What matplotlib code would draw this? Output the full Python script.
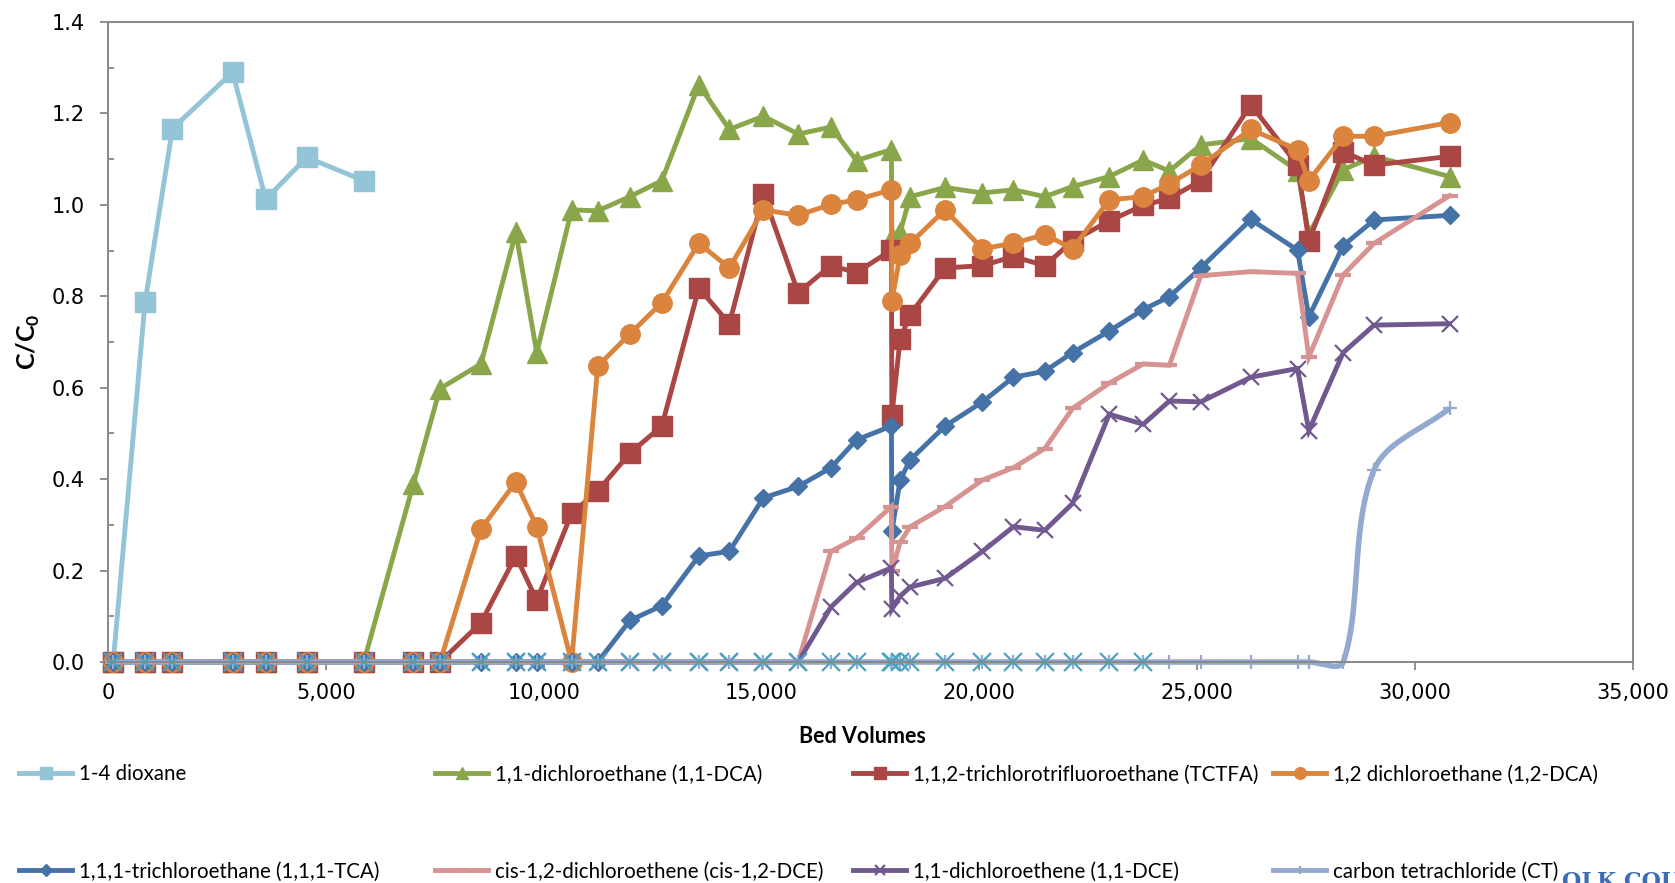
import numpy as np
import matplotlib
matplotlib.use("Agg")
import matplotlib.pyplot as plt
from matplotlib.ticker import MultipleLocator, FuncFormatter

plt.rcParams["mathtext.fontset"] = "custom"
plt.rcParams["mathtext.rm"] = "Lato"
plt.rcParams["mathtext.bf"] = "Lato:bold"

# sample points (bed volumes) shared by all compounds
bed_volumes = [120, 850, 1480, 2860, 3620, 4560, 5870, 7010, 7620, 8560,
               9360, 9840, 10640, 11240, 11980, 12710, 13560, 14260, 15040, 15840,
               16590, 17180, 17980, 17990, 18180, 18410, 19210, 20070, 20780, 21500,
               22140, 22980, 23760, 24360, 25080, 26230, 27300, 27560, 28350, 29060,
               30790]

dioxane = [0, 0.787, 1.167, 1.290, 1.012, 1.104, 1.053]

dca_11 = [0, 0, 0, 0, 0, 0, 0, 0.390, 0.598, 0.652,
          0.940, 0.677, 0.989, 0.987, 1.018, 1.053, 1.263, 1.165, 1.194, 1.155,
          1.170, 1.097, 1.121, 0.930, 0.940, 1.018, 1.038, 1.026, 1.033, 1.018,
          1.040, 1.062, 1.098, 1.074, 1.131, 1.145, 1.075, 0.935, 1.077, 1.106,
          1.062]

tctfa = [0, 0, 0, 0, 0, 0, 0, 0, 0, 0.086,
         0.232, 0.135, 0.325, 0.374, 0.457, 0.516, 0.818, 0.740, 1.023, 0.808,
         0.867, 0.852, 0.901, 0.540, 0.706, 0.760, 0.862, 0.867, 0.887, 0.867,
         0.921, 0.965, 0.999, 1.014, 1.053, 1.219, 1.087, 0.921, 1.116, 1.087,
         1.106]

dca_12 = [0, 0, 0, 0, 0, 0, 0, 0, 0, 0.291,
          0.394, 0.296, 0, 0.647, 0.718, 0.786, 0.916, 0.862, 0.989, 0.977,
          1.001, 1.011, 1.033, 0.789, 0.891, 0.916, 0.989, 0.904, 0.916, 0.935,
          0.904, 1.011, 1.018, 1.046, 1.087, 1.165, 1.121, 1.053, 1.150, 1.150,
          1.180]

tca_111 = [0, 0, 0, 0, 0, 0, 0, 0, 0, 0,
           0, 0, 0, 0, 0.091, 0.123, 0.232, 0.242, 0.359, 0.384,
           0.425, 0.486, 0.516, 0.286, 0.398, 0.442, 0.516, 0.569, 0.623, 0.636,
           0.677, 0.724, 0.771, 0.799, 0.862, 0.968, 0.901, 0.755, 0.911, 0.967,
           0.977]

cis_dce = [0, 0, 0, 0, 0, 0, 0, 0, 0, 0,
           0, 0, 0, 0, 0, 0, 0, 0, 0, 0,
           0.242, 0.271, 0.340, 0.198, 0.262, 0.296, 0.340, 0.398, 0.425, 0.467,
           0.555, 0.610, 0.652, 0.649, 0.845, 0.854, 0.850, 0.667, 0.847, 0.916,
           1.020]

dce_11 = [0, 0, 0, 0, 0, 0, 0, 0, 0, 0,
          0, 0, 0, 0, 0, 0, 0, 0, 0, 0,
          0.120, 0.174, 0.206, 0.115, 0.144, 0.164, 0.183, 0.242, 0.296, 0.288,
          0.347, 0.542, 0.520, 0.571, 0.569, 0.623, 0.642, 0.506, 0.677, 0.737,
          0.740]

ct = [0, 0, 0, 0, 0, 0, 0, 0, 0, 0,
      0, 0, 0, 0, 0, 0, 0, 0, 0, 0,
      0, 0, 0, 0, 0, 0, 0, 0, 0, 0,
      0, 0, 0, 0, 0, 0, 0, 0, 0, 0.421,
      0.555]

# series whose legend entry is cut off at the bottom of the picture
other = [0] * 33

labels = ["1-4 dioxane", "1,1-dichloroethane (1,1-DCA)",
          "1,1,2-trichlorotrifluoroethane (TCTFA)", "1,2 dichloroethane (1,2-DCA)",
          "1,1,1-trichloroethane (1,1,1-TCA)", "cis-1,2-dichloroethene (cis-1,2-DCE)",
          "1,1-dichloroethene (1,1-DCE)", "carbon tetrachloride (CT)"]


def smooth_curve(xs, ys, n=24):
    # bezier smoothing like a spreadsheet "smoothed line" (drawing only)
    sx, sy = 1525 / 35000, 640 / 1.4
    P = np.column_stack([np.asarray(xs, float) * sx, np.asarray(ys, float) * sy])
    t = np.linspace(0, 1, n)[:, None]
    pts = [P[:1]]
    for i in range(len(P) - 1):
        p0 = P[i - 1] if i > 0 else P[i]
        p1, p2 = P[i], P[i + 1]
        p3 = P[i + 2] if i + 2 < len(P) else P[i + 1]
        d01, d12, d23 = (np.hypot(*(p1 - p0)), np.hypot(*(p2 - p1)),
                         np.hypot(*(p3 - p2)))
        c1 = p1 + (p2 - p0) * (d12 / (d01 + d12 + 1e-9)) / 3
        c2 = p2 - (p3 - p1) * (d12 / (d12 + d23 + 1e-9)) / 3
        seg = ((1 - t) ** 3 * p1 + 3 * (1 - t) ** 2 * t * c1
               + 3 * (1 - t) * t ** 2 * c2 + t ** 3 * p2)
        pts.append(seg[1:])
    pts = np.vstack(pts)
    return pts[:, 0] / sx, pts[:, 1] / sy


fig = plt.figure(figsize=(16.75, 8.83), dpi=100)
ax = fig.add_axes([108 / 1675, 1 - 662 / 883, 1525 / 1675, 640 / 883])

lw = 3.5
styles = [
    (dioxane, "#93C4D8", dict(marker="s", ms=14)),
    (dca_11, "#8AA64B", dict(marker="^", ms=14)),
    (tctfa, "#AA4643", dict(marker="s", ms=14)),
    (dca_12, "#DB843D", dict(marker="o", ms=14)),
    (tca_111, "#4572A7", dict(marker="D", ms=9.5)),
    (cis_dce, "#D69392", dict(marker="_", ms=11, mew=3)),
    (dce_11, "#71588F", dict(marker="x", ms=12, mew=1.6)),
]

handles = []
for ys, col, mk in styles:
    h, = ax.plot(bed_volumes[:len(ys)], ys, color=col, lw=lw, mfc=col, mec=col,
                 solid_joinstyle="miter", clip_on=False, **mk)
    handles.append(h)

# carbon tetrachloride: smoothed line with plus markers
ct_col = "#93A9CF"
cx, cy = smooth_curve(bed_volumes, ct)
ax.plot(cx, cy, color=ct_col, lw=lw + 0.5, solid_capstyle="butt", clip_on=False)
ax.plot(bed_volumes, ct, ls="none", marker="+", ms=10, mew=1.6, color=ct_col,
        clip_on=False)
h_ct, = ax.plot([], [], color=ct_col, lw=lw, marker="+", ms=10, mew=1.6)
handles.append(h_ct)

ax.plot(bed_volumes[:len(other)], other, ls="none", marker="x", ms=13, mew=1.6,
        color="#4BA3BF", clip_on=False)

ax.set_xlim(0, 35000)
ax.set_ylim(0, 1.4)
ax.xaxis.set_major_locator(MultipleLocator(5000))
ax.xaxis.set_major_formatter(FuncFormatter(lambda v, p: f"{v:,.0f}"))
ax.yaxis.set_major_locator(MultipleLocator(0.2))
ax.yaxis.set_minor_locator(MultipleLocator(0.1))
ax.yaxis.set_major_formatter(FuncFormatter(lambda v, p: f"{v:.1f}"))

for s in ax.spines.values():
    s.set_color("#888888")
    s.set_linewidth(1.4)

ax.tick_params(axis="both", which="major", direction="out", length=6, width=1.3,
               color="#888888", labelsize=15, labelcolor="black")
ax.tick_params(axis="y", which="major", pad=11)
ax.tick_params(axis="x", which="major", pad=9)
ax.tick_params(axis="y", which="minor", direction="in", length=4.5, width=1.3,
               color="#888888")

ax.set_xlabel("Bed Volumes", fontsize=15.5, fontweight="bold", family="Lato")
ax.xaxis.set_label_coords(0.495, -0.1)
ax.set_ylabel("C/C$_\\mathbf{0}$", fontsize=18, fontweight="bold", family="Lato")
ax.yaxis.set_label_coords(-0.043, 0.5)

columns = [(19, [0, 4]), (435, [1, 5]), (853, [2, 6]), (1273, [3, 7])]
for x0, idx in columns:
    fig.legend([handles[i] for i in idx], [labels[i] for i in idx],
               loc="center left", bbox_to_anchor=(x0 / 1675, 1 - 823 / 883),
               frameon=False, borderpad=0, borderaxespad=0, handlelength=2.6,
               handletextpad=0.3, labelspacing=3.75, markerscale=0.6,
               prop={"family": "Lato", "size": 14.8})

fig.text(1562 / 1675, 1 - 871 / 883, "OLK COUNTY", color="#3A6DB5",
         family="DejaVu Serif", fontweight="bold", fontsize=16, va="top")

fig.savefig("out.png", dpi=100)
